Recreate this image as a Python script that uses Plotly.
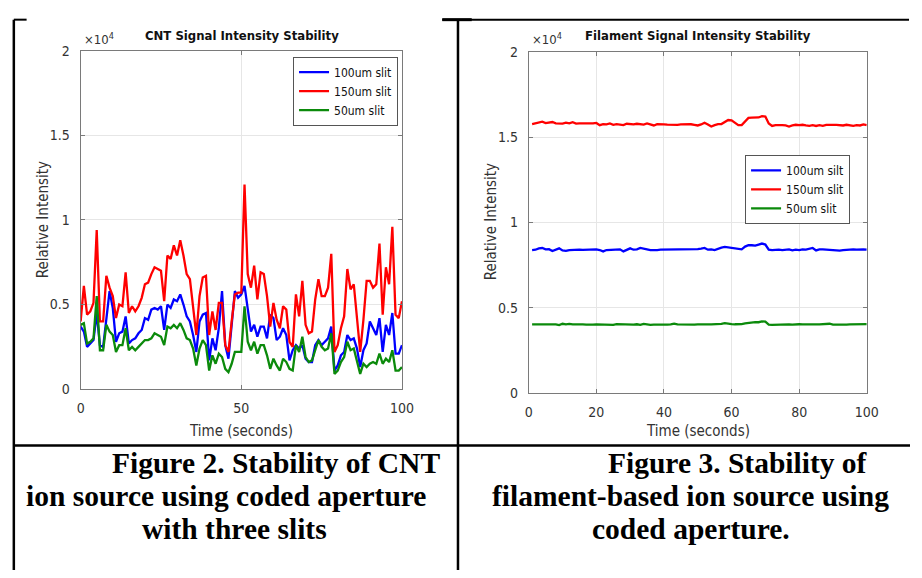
import plotly.graph_objects as go

W, H = 922, 578

# ---------------- data ----------------
series_names_cnt = ["100um slit", "150um slit", "50um slit"]
series_names_fil = ["100um silt", "150um slit", "50um slit"]

time_cnt = list(range(0, 101))
cnt_100 = [3700, 3400, 2500, 2700, 2900, 4500, 2600, 2500, 4000, 5800,
           4800, 2800, 3300, 3400, 4300, 2700, 2900, 3000, 3300, 3500,
           4200, 4100, 4700, 4800, 4700, 4900, 3500, 5000, 4800, 5300,
           5200, 5600, 5000, 4300, 4000, 3200, 2200, 4000, 4400, 4500,
           1700, 3000, 2300, 3600, 5800, 2600, 1800, 3900, 5800, 5400,
           5600, 6100, 4700, 3400, 3800, 3100, 3700, 3700, 3000, 4400,
           4200, 2900, 3100, 3600, 3200, 1700, 2300, 2600, 2400, 2600,
           1800, 1600, 1600, 2600, 2900, 2600, 2800, 3000, 3700, 1100,
           1400, 2000, 2200, 3200, 2900, 3000, 2400, 1300, 2300, 2700,
           4000, 3600, 3200, 4200, 2200, 3800, 3200, 4500, 2100, 2100,
           2600]
cnt_150 = [4000, 6100, 4400, 4600, 5100, 9400, 4000, 4000, 6700, 6000,
           5500, 4200, 5000, 4900, 6900, 4500, 4900, 4600, 4900, 5400,
           6200, 6300, 6800, 7200, 7100, 7000, 5200, 7900, 7700, 8500,
           7900, 8800, 7900, 6800, 6500, 5000, 3200, 5500, 6600, 6700,
           3200, 4600, 3500, 5100, 5100, 2600, 2200, 4000, 5600, 5700,
           5700, 12100, 6800, 6000, 7300, 5300, 6900, 6800, 5500, 3700,
           5100, 4100, 3600, 4900, 4700, 2800, 2500, 5600, 4300, 6400,
           3800, 3300, 3400, 5300, 6500, 5500, 5500, 6000, 8000, 2200,
           2600, 3600, 4300, 7100, 5900, 6200, 4000, 2200, 4100, 6400,
           6400, 6000, 6200, 8600, 4400, 7200, 6200, 9600, 4400, 4200,
           5200]
cnt_50 = [3800, 3900, 2700, 2800, 3000, 5500, 2300, 2300, 3800, 3400,
          3200, 2200, 2600, 2600, 3600, 2300, 2500, 2300, 2500, 2700,
          2900, 2900, 3000, 3300, 3200, 3100, 2600, 3700, 3600, 3800,
          3600, 3900, 3500, 3000, 2900, 2400, 1400, 2400, 2900, 2600,
          1100, 2000, 1500, 2100, 1900, 1200, 1000, 1500, 2200, 2200,
          2200, 4900, 2800, 2300, 2800, 2100, 2600, 2600, 2000, 1200,
          1800, 1400, 1100, 1800, 1600, 1200, 1100, 2600, 2200, 3100,
          1900, 1600, 1700, 2300, 2900, 2500, 2300, 2400, 3300, 900,
          1100, 1600, 1900, 2800, 2300, 2400, 1600, 900, 1500, 1300,
          1500, 1600, 1500, 2100, 1500, 1800, 1600, 2300, 1100, 1100,
          1300]

time_fil = list(range(1, 101))
fil_100 = [8380, 8400, 8480, 8500, 8420, 8430, 8320, 8400, 8480, 8360,
           8330, 8380, 8400, 8380, 8400, 8390, 8400, 8380, 8400, 8420,
           8380, 8300, 8380, 8400, 8380, 8400, 8420, 8300, 8380, 8480,
           8400, 8420, 8500, 8480, 8420, 8380, 8360, 8380, 8400, 8400,
           8420, 8430, 8440, 8400, 8420, 8440, 8420, 8430, 8420, 8430,
           8460, 8500, 8400, 8420, 8380, 8460, 8520, 8560, 8530, 8480,
           8460, 8440, 8420, 8580, 8660, 8660, 8640, 8700, 8760, 8700,
           8400, 8380, 8400, 8400, 8380, 8380, 8420, 8360, 8400, 8380,
           8420, 8400, 8440, 8500, 8360, 8420, 8420, 8400, 8400, 8360,
           8360, 8350, 8380, 8400, 8420, 8420, 8400, 8420, 8420, 8400]
fil_150 = [15760, 15800, 15850, 15900, 15820, 15830, 15880, 15800, 15780, 15790,
           15850, 15800, 15870, 15790, 15800, 15790, 15820, 15780, 15800, 15830,
           15700, 15760, 15750, 15800, 15720, 15760, 15720, 15700, 15780, 15760,
           15740, 15780, 15740, 15730, 15800, 15760, 15680, 15750, 15760, 15740,
           15730, 15720, 15740, 15720, 15740, 15750, 15730, 15750, 15720, 15680,
           15740, 15840, 15740, 15620, 15700, 15760, 15760, 15880, 16000, 15980,
           15820, 15700, 15700, 15900, 16120, 16140, 16130, 16150, 16230, 16200,
           15800, 15650, 15700, 15720, 15700, 15680, 15620, 15680, 15720, 15700,
           15720, 15680, 15660, 15700, 15650, 15700, 15660, 15720, 15700, 15720,
           15720, 15680, 15680, 15720, 15700, 15660, 15700, 15680, 15740, 15700]
fil_50 = [4020, 4020, 4010, 4020, 4020, 4010, 4030, 4020, 3980, 4060,
          4020, 4050, 4020, 4030, 4010, 4020, 4010, 4030, 4010, 4020,
          4010, 4030, 4020, 4010, 3990, 4040, 4030, 4010, 4040, 4020,
          4010, 4030, 4000, 4050, 4020, 4000, 4010, 4000, 3990, 4000,
          4010, 4030, 4070, 4020, 4010, 4000, 4010, 4020, 4010, 4020,
          4010, 4040, 4020, 4030, 4030, 4040, 4050, 4100, 4060, 4040,
          4030, 4030, 4040, 4080, 4120, 4150, 4160, 4150, 4200, 4180,
          4010, 4000, 4010, 4010, 4020, 4010, 4020, 4010, 4040, 4030,
          4020, 4010, 4000, 4010, 4020, 4020, 4030, 4040, 4060, 4010,
          4000, 4010, 4010, 4010, 4020, 4030, 4030, 4030, 4040, 4040]

y_tickvals = [0, 5000, 10000, 15000, 20000]
y_ticktext = ["0", "0.5", "1", "1.5", "2"]
x_ticks_cnt = [0, 50, 100]
x_ticks_fil = [0, 20, 40, 60, 80, 100]

titles = ["CNT Signal Intensity Stability", "Filament Signal Intensity Stability"]
captions = [
    ["Figure 2. Stability of CNT", "ion source using coded aperture", "with three slits"],
    ["Figure 3. Stability of", "filament-based ion source using", "coded aperture."],
]

colors = ["#0000ff", "#ff0000", "#0b8a0b"]

# ---------------- helpers (pixel -> paper fraction) ----------------
def px(x):
    return x / W

def py(y):
    return 1 - y / H

NARROW = "DejaVu Sans Condensed, Liberation Sans Narrow, Arial Narrow, sans-serif"
SERIF = "Liberation Serif, Times New Roman, serif"
AX_COL = "#7a7a7a"
TXT_COL = "#333333"

fig = go.Figure()

for name, ys, c in zip(series_names_cnt, [cnt_100, cnt_150, cnt_50], colors):
    fig.add_trace(go.Scatter(x=time_cnt, y=ys, name=name, mode="lines",
                             line=dict(color=c, width=2.3), xaxis="x", yaxis="y",
                             legend="legend"))
for name, ys, c in zip(series_names_fil, [fil_100, fil_150, fil_50], colors):
    fig.add_trace(go.Scatter(x=time_fil, y=ys, name=name, mode="lines",
                             line=dict(color=c, width=2.3), xaxis="x2", yaxis="y2",
                             legend="legend2"))

def xaxis(dom, anchor, ticks):
    return dict(domain=dom, anchor=anchor, range=[0, 100], tickvals=ticks,
                ticks="inside", ticklen=4, tickcolor=AX_COL, showline=True,
                linecolor=AX_COL, linewidth=1, mirror="allticks", showgrid=True,
                gridcolor="#e6e6e6", zeroline=False, ticklabelstandoff=6,
                tickfont=dict(family=NARROW, size=14, color=TXT_COL))

def yaxis(dom, anchor):
    return dict(domain=dom, anchor=anchor, range=[0, 20000], tickvals=y_tickvals,
                ticktext=y_ticktext, ticks="inside", ticklen=4, tickcolor=AX_COL,
                showline=True, linecolor=AX_COL, linewidth=1, mirror="allticks",
                showgrid=True, gridcolor="#e6e6e6", zeroline=False,
                ticklabelstandoff=7,
                tickfont=dict(family=NARROW, size=14, color=TXT_COL))

def legend_box(xr, yt):
    return dict(x=px(xr), y=py(yt), xanchor="right", yanchor="top",
                bgcolor="white", bordercolor="#555555", borderwidth=1,
                font=dict(family=NARROW, size=12, color="#111111"),
                itemwidth=30, tracegroupgap=0)

fig.update_layout(
    width=W, height=H, margin=dict(l=0, r=0, t=0, b=0),
    paper_bgcolor="white", plot_bgcolor="white",
    xaxis=xaxis([px(78), px(405)], "y", x_ticks_cnt),
    yaxis=yaxis([py(392), py(44)], "x"),
    xaxis2=xaxis([px(534), px(878)], "y2", x_ticks_fil),
    yaxis2=yaxis([py(396), py(45)], "x2"),
    legend=legend_box(401, 50),
    legend2=legend_box(861, 151),
    showlegend=True,
)

ann = []
# chart titles
for t, cx in zip(titles, [242, 706]):
    ann.append(dict(text=f"<b>{t}</b>", x=px(cx), y=py(28), xref="paper", yref="paper",
                    showarrow=False, xanchor="center", yanchor="middle",
                    font=dict(family=NARROW, size=13, color="#111111")))
# exponent labels
for ex in [79, 535]:
    ann.append(dict(text="×10<sup>4</sup>", x=px(ex), y=py(42), xref="paper", yref="paper",
                    showarrow=False, xanchor="left", yanchor="bottom",
                    font=dict(family=NARROW, size=13, color=TXT_COL)))
# y-axis titles
for yx, cy in [(40, 218), (496, 220)]:
    ann.append(dict(text="Relative Intensity", x=px(yx), y=py(cy), xref="paper", yref="paper",
                    showarrow=False, textangle=-90, xanchor="center", yanchor="middle",
                    font=dict(family=NARROW, size=15, color=TXT_COL)))
# x-axis titles
for cx in [241, 706]:
    ann.append(dict(text="Time (seconds)", x=px(cx), y=py(435), xref="paper", yref="paper",
                    showarrow=False, xanchor="center", yanchor="middle",
                    font=dict(family=NARROW, size=15, color=TXT_COL)))
# captions
cap_pos = [
    [(446, "right"), (226, "center"), (235, "center")],
    [(747, "center"), (699, "center"), (699, "center")],
]
for lines, poss in zip(captions, cap_pos):
    for i, (line, (cx, anc)) in enumerate(zip(lines, poss)):
        ann.append(dict(text=f"<b>{line}</b>", x=px(cx), y=py(468 + 34 * i),
                        xref="paper", yref="paper", showarrow=False,
                        xanchor=anc, yanchor="middle",
                        font=dict(family=SERIF, size=29.5, color="black")))
fig.update_layout(annotations=ann)

# table borders
def seg(x0, y0, x1, y1, w=2):
    return dict(type="line", xref="paper", yref="paper", x0=px(x0), y0=py(y0),
                x1=px(x1), y1=py(y1), line=dict(color="black", width=w), layer="above")

fig.update_layout(shapes=[
    seg(10, 12, 23, 12, 2),
    seg(446, 12, 921, 12, 2),
    seg(446, 12, 476, 12, 3),
    seg(10, 12, 10, 578, 2.5),
    seg(462, 12, 462, 578, 2.5),
    seg(10, 450, 922, 450, 2.5),
])

fig.write_html("out.html")
